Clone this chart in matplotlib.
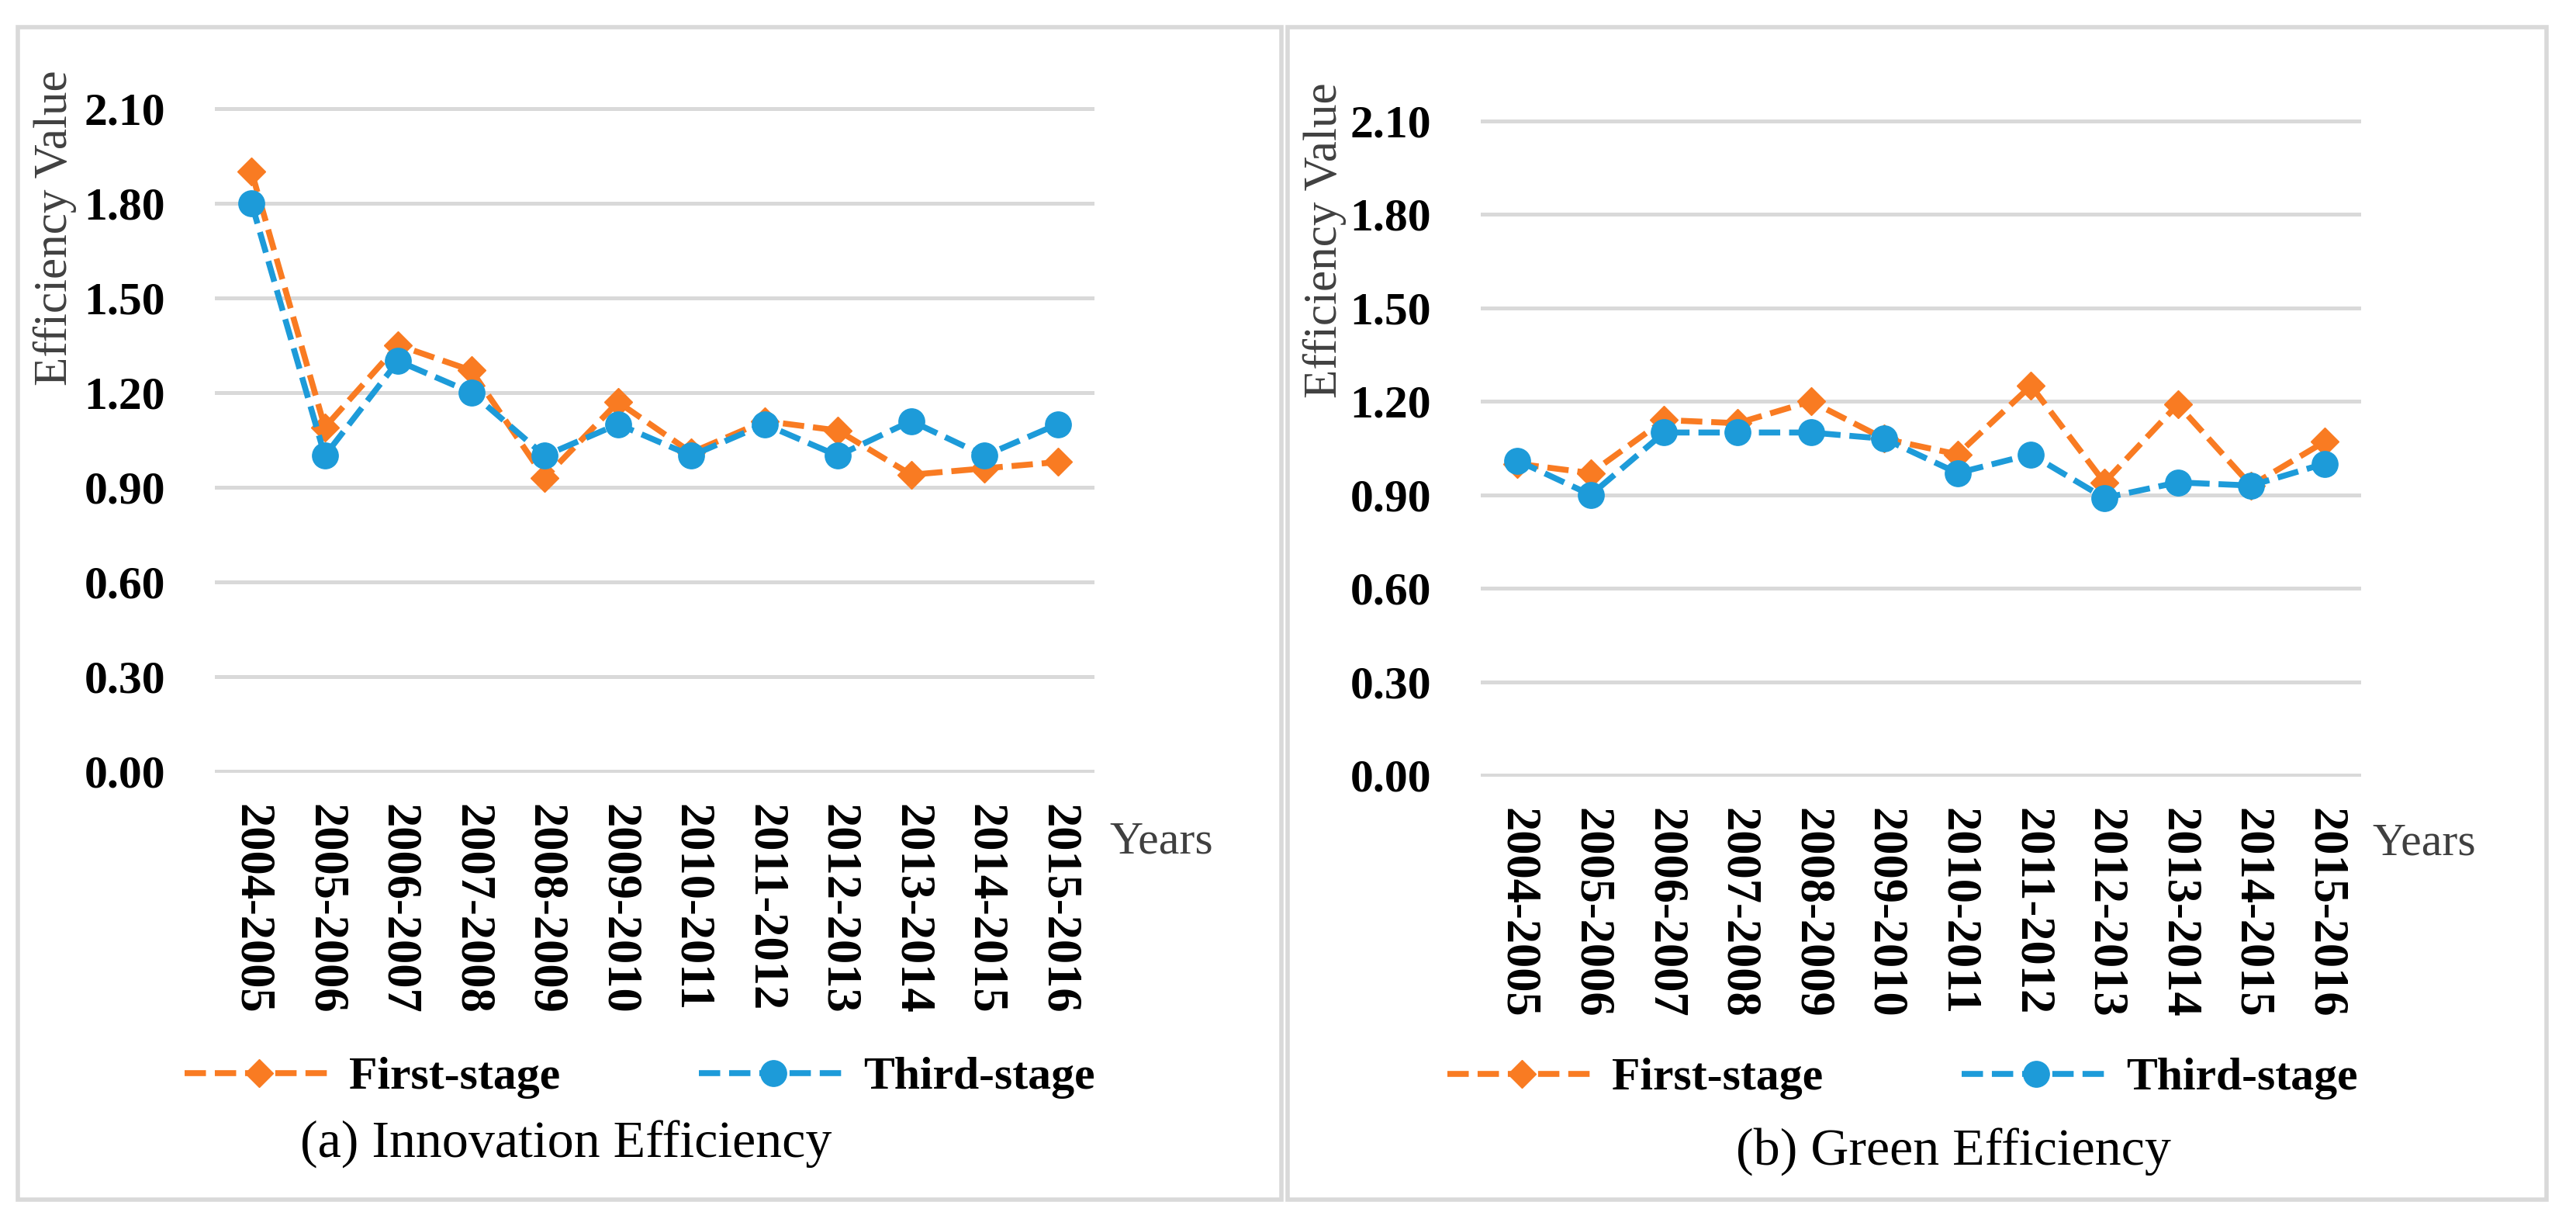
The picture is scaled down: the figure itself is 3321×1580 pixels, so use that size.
import matplotlib.pyplot as plt
import matplotlib.patches as patches
import numpy as np

# Periods on the x axis
periods = ['2004-2005', '2005-2006', '2006-2007', '2007-2008', '2008-2009', '2009-2010',
           '2010-2011', '2011-2012', '2012-2013', '2013-2014', '2014-2015', '2015-2016']

# (a) Innovation efficiency
innov_first = [1.90, 1.09, 1.35, 1.27, 0.93, 1.17, 1.01, 1.11, 1.08, 0.94, 0.96, 0.98]
innov_third = [1.80, 1.00, 1.30, 1.20, 1.00, 1.10, 1.00, 1.10, 1.00, 1.11, 1.00, 1.10]

# (b) Green efficiency
green_first = [1.00, 0.97, 1.14, 1.13, 1.20, 1.08, 1.03, 1.25, 0.94, 1.19, 0.93, 1.07]
green_third = [1.01, 0.90, 1.10, 1.10, 1.10, 1.08, 0.97, 1.03, 0.89, 0.94, 0.93, 1.00]

yticks = [0.0, 0.3, 0.6, 0.9, 1.2, 1.5, 1.8, 2.1]
series_labels = ['First-stage', 'Third-stage']
captions = ['(a) Innovation Efficiency', '(b) Green Efficiency']

ORANGE = '#F97B22'
BLUE = '#1D9BD9'
GRID = '#D9D9D9'

plt.rcParams['font.family'] = ['Liberation Serif', 'DejaVu Serif']

W, H = 3321, 1580
fig = plt.figure(figsize=(W / 100, H / 100), dpi=100)


def px(x, y):
    # pixel position (origin top-left) -> figure fraction
    return x / W, 1 - y / H


def axes_rect(x0, y0, x1, y1):
    return [x0 / W, 1 - y1 / H, (x1 - x0) / W, (y1 - y0) / H]


# layout of each panel, in pixels
panels = [
    dict(frame=(23, 35, 1652, 1546), axes=(277, 138, 1411, 996),
         ylabel=(71, 294), years=(1430, 1085), legend=(238, 1389), caption=(730, 1475),
         data=(innov_first, innov_third)),
    dict(frame=(1660, 35, 3283, 1546), axes=(1909, 154, 3044, 1001),
         ylabel=(1708, 310), years=(3058, 1088), legend=(1866, 1390), caption=(2518, 1485),
         data=(green_first, green_third)),
]

x = np.arange(len(periods))
dash = (0, (3.6, 1.5))

for p, caption in zip(panels, captions):
    # light grey frame around the panel
    fx0, fy0, fx1, fy1 = p['frame']
    fig.add_artist(patches.Rectangle(px(fx0, fy1), (fx1 - fx0) / W, (fy1 - fy0) / H,
                                     transform=fig.transFigure, fill=False,
                                     edgecolor=GRID, linewidth=4))

    ax = fig.add_axes(axes_rect(*p['axes']))
    first, third = p['data']
    ax.plot(x, first, color=ORANGE, linestyle=dash, linewidth=5.5, marker='D',
            markersize=18, markeredgecolor=ORANGE, clip_on=False, zorder=3,
            label=series_labels[0])
    ax.plot(x, third, color=BLUE, linestyle=dash, linewidth=5.5, marker='o',
            markersize=24, markeredgecolor=BLUE, clip_on=False, zorder=4,
            label=series_labels[1])

    ax.set_xlim(-0.5, len(periods) - 0.5)
    ax.set_ylim(-0.004, 2.104)
    ax.set_yticks(yticks)
    ax.set_yticklabels([f'{v:.2f}' for v in yticks], fontsize=43, fontweight='bold')
    ax.set_xticks(x)
    ax.set_xticklabels(periods, rotation=-90, fontsize=45, fontweight='bold')
    ax.tick_params(axis='both', length=0)
    ax.tick_params(axis='y', pad=46)
    ax.tick_params(axis='x', pad=29)
    ax.grid(axis='y', color=GRID, linewidth=3.6)
    ax.set_axisbelow(True)
    for s in ax.spines.values():
        s.set_visible(False)

    fig.text(*px(*p['ylabel']), 'Efficiency Value', rotation=90, ha='center',
             va='center', fontsize=44, color='#404040')
    fig.text(*px(*p['years']), 'Years', ha='left', va='center', fontsize=43,
             color='#404040')

    ax.legend(loc='center left', bbox_to_anchor=px(*p['legend']),
              bbox_transform=fig.transFigure, ncol=2, frameon=False,
              prop=dict(weight='bold', size=43), handlelength=3.2,
              handletextpad=0.35, columnspacing=3.0, borderpad=0, borderaxespad=0)

    fig.text(*px(*p['caption']), caption, ha='center', va='center', fontsize=49)

fig.savefig('out.png', dpi=100)
